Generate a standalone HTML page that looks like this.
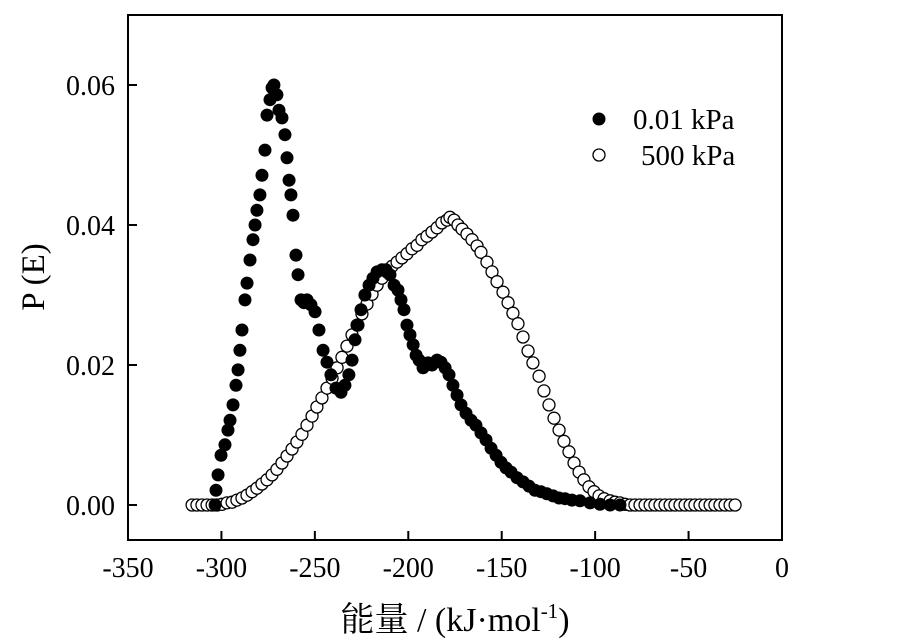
<!DOCTYPE html>
<html><head><meta charset="utf-8"><style>
body{margin:0;background:#fff;}
svg{display:block;font-family:"Liberation Serif","Noto Serif CJK SC",serif;}
</style></head><body>
<svg id="chart" width="920" height="641" viewBox="0 0 920 641" xmlns="http://www.w3.org/2000/svg">
<g id="marks"></g>
<g id="axes"></g>
<text x="0" y="0" font-size="33" text-anchor="middle" transform="translate(44,277) rotate(-90)">P (E)</text>
<text x="455" y="631" font-size="34" text-anchor="middle">能量 / (kJ·mol<tspan font-size="21" dy="-13">-1</tspan><tspan dy="13">)</tspan></text>
<g>
<circle cx="599" cy="119" r="6.5" fill="#000"/>
<text x="633" y="129" font-size="29">0.01 kPa</text>
<circle cx="599" cy="155" r="6" fill="#fff" stroke="#000" stroke-width="1.3"/>
<text x="641" y="165" font-size="29">500 kPa</text>
</g>
</svg>
<script>
const xTicks=[-350,-300,-250,-200,-150,-100,-50,0];
const yTicks=[0.00,0.02,0.04,0.06];
const yTickLabels=["0.00","0.02","0.04","0.06"];
const lowE=[-303.4,-302.9,-301.8,-300.2,-298.1,-296.5,-295.4,-293.8,-292.2,-291.1,-290.1,-289.0,-287.4,-286.3,-284.7,-283.1,-282.0,-281.0,-279.4,-278.3,-276.7,-275.6,-274.0,-272.9,-271.9,-270.3,-269.2,-267.6,-266.0,-264.9,-263.8,-262.8,-261.7,-260.1,-259.0,-257.4,-255.8,-254.2,-252.1,-249.9,-247.8,-245.6,-243.5,-241.4,-238.7,-236.0,-233.9,-231.8,-230.1,-228.5,-226.9,-225.3,-223.2,-221.0,-218.9,-216.7,-214.1,-211.9,-209.8,-207.6,-205.5,-203.9,-202.3,-200.7,-199.1,-197.4,-195.8,-194.2,-192.1,-189.4,-187.3,-184.6,-182.5,-180.3,-178.2,-176.1,-173.9,-171.8,-169.1,-166.4,-163.8,-161.1,-158.4,-155.7,-153.0,-150.4,-147.7,-145.0,-141.8,-138.6,-135.4,-132.2,-129.0,-125.8,-122.5,-119.3,-116.1,-112.4,-108.1,-102.7,-97.4,-92.0,-86.7];
const lowP=[0,0.0021,0.0043,0.0071,0.0086,0.0107,0.0121,0.0143,0.0171,0.0193,0.0221,0.025,0.0293,0.0317,0.035,0.0379,0.04,0.0421,0.0443,0.0471,0.0507,0.0557,0.0579,0.0596,0.06,0.0586,0.0564,0.0553,0.0529,0.0496,0.0464,0.0443,0.0414,0.0357,0.0329,0.0293,0.0289,0.0293,0.0286,0.0276,0.025,0.0221,0.0204,0.0186,0.0167,0.0161,0.0171,0.0186,0.0207,0.0236,0.0257,0.0279,0.03,0.0314,0.0324,0.0333,0.0336,0.0336,0.0329,0.0314,0.0307,0.0293,0.0279,0.0257,0.0243,0.0229,0.0214,0.0207,0.0196,0.0203,0.02,0.0207,0.0204,0.0196,0.0186,0.0171,0.0157,0.0143,0.0131,0.0121,0.0114,0.0103,0.0093,0.0081,0.0071,0.0061,0.0053,0.0047,0.0039,0.0033,0.0027,0.0021,0.0019,0.0016,0.0013,0.001,0.0009,0.0007,0.0006,0.0003,0.0001,0,0];
const highE=[-315.7,-313.1,-310.4,-307.7,-305.0,-302.4,-299.7,-297.0,-294.3,-291.7,-289.0,-286.3,-283.6,-281.0,-278.3,-275.6,-272.9,-270.3,-267.6,-264.9,-262.2,-259.6,-256.9,-254.2,-251.5,-248.9,-246.2,-243.5,-240.8,-238.1,-235.5,-232.8,-230.1,-227.4,-224.8,-222.1,-219.4,-216.7,-214.1,-211.4,-208.7,-206.0,-203.4,-200.7,-198.0,-195.3,-192.7,-190.0,-187.3,-184.6,-182.0,-179.3,-177.7,-175.5,-173.4,-171.2,-168.6,-165.9,-163.2,-161.1,-157.9,-155.2,-152.5,-149.3,-146.6,-144.0,-141.3,-138.6,-135.9,-133.3,-130.0,-127.4,-124.7,-122.0,-119.3,-116.7,-114.0,-111.3,-108.6,-106.0,-103.3,-100.6,-97.9,-95.2,-92.0,-89.4,-86.7,-84.0,-81.3,-78.7,-76.0,-73.3,-70.6,-68.0,-65.3,-62.6,-59.9,-57.3,-54.6,-51.9,-49.2,-46.6,-43.9,-41.2,-38.5,-35.9,-33.2,-30.5,-27.8,-25.1];
const highP=[0,0,0,0,0,0,0.0001,0.0003,0.0004,0.0007,0.001,0.0014,0.0019,0.0024,0.003,0.0036,0.0043,0.0051,0.006,0.007,0.008,0.009,0.0101,0.0114,0.0127,0.014,0.0153,0.0167,0.0181,0.0196,0.0211,0.0227,0.0243,0.0257,0.0273,0.0287,0.0301,0.0314,0.0324,0.0333,0.0341,0.0347,0.0353,0.0359,0.0366,0.0371,0.0379,0.0384,0.039,0.0396,0.0403,0.0407,0.0411,0.0407,0.04,0.0394,0.0387,0.0379,0.037,0.0361,0.0347,0.0333,0.0319,0.0304,0.0289,0.0274,0.0259,0.024,0.022,0.0203,0.0184,0.0163,0.0143,0.0124,0.0107,0.0091,0.0076,0.006,0.0047,0.0036,0.0026,0.0019,0.0013,0.0009,0.0006,0.0004,0.0003,0.0001,0,0,0,0,0,0,0,0,0,0,0,0,0,0,0,0,0,0,0,0,0,0];

const NS="http://www.w3.org/2000/svg";
const L=128,R=782,T=15,B=540;
const xMin=-350,xMax=0,yMin=-0.005,yMax=0.07;
function sx(v){return L+(v-xMin)/(xMax-xMin)*(R-L);}
function sy(v){return B-(v-yMin)/(yMax-yMin)*(B-T);}
function mk(tag,attrs,parent){const e=document.createElementNS(NS,tag);for(const k in attrs)e.setAttribute(k,attrs[k]);parent.appendChild(e);return e;}
const axes=document.getElementById('axes');
const marks=document.getElementById('marks');

const frame=mk('rect',{x:L,y:T,width:R-L,height:B-T,fill:'none',stroke:'#000','stroke-width':2},axes);


xTicks.forEach(v=>{
  const t=mk('line',{x1:sx(v),x2:sx(v),y1:B,y2:B-9,stroke:'#000','stroke-width':2},axes);
  
  
  const tx=mk('text',{x:sx(v),y:577,'font-size':28,'text-anchor':'middle'},axes);
  tx.textContent=v;
  
  
});
yTicks.forEach((v,i)=>{
  const t=mk('line',{x1:L,x2:L+9,y1:sy(v),y2:sy(v),stroke:'#000','stroke-width':2},axes);
  
  
  const tx=mk('text',{x:115,y:sy(v)+10,'font-size':28,'text-anchor':'end'},axes);
  tx.textContent=yTickLabels[i];
  
  
});
highE.forEach((e,i)=>{
  const c=mk('circle',{cx:sx(e),cy:sy(highP[i]),r:6,fill:'#fff',stroke:'#000','stroke-width':1.3},marks);
  
  
});
lowE.forEach((e,i)=>{
  const c=mk('circle',{cx:sx(e),cy:sy(lowP[i]),r:6.5,fill:'#000'},marks);
  
  
});
</script>
</body></html>
